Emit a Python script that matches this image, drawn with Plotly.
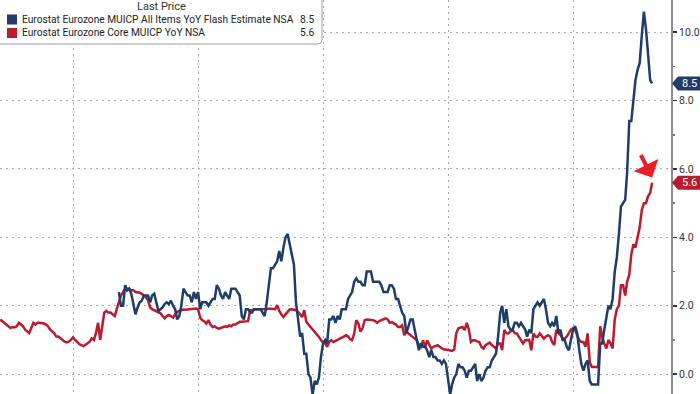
import pandas as pd
import plotly.graph_objects as go

# ---------------- data (monthly, YoY %) ----------------
core_start = "1997-01-31"
core_values = [
    1.6, 1.55, 1.5, 1.45, 1.4, 1.35, 1.38, 1.37, 1.4, 1.5, 1.45, 1.4,        # 1997
    1.3, 1.25, 1.2, 1.35, 1.5, 1.45, 1.5, 1.5, 1.5, 1.48, 1.45, 1.4,         # 1998
    1.3, 1.25, 1.2, 1.1, 1.1, 1.05, 1.0, 0.95, 0.93, 0.95, 1.0, 1.08,        # 1999
    1.0, 0.93, 0.88, 0.85, 0.82, 0.86, 0.9, 0.95, 1.05, 1.0, 1.2, 1.5,       # 2000
    1.0, 1.4, 1.8, 1.85, 1.8, 1.8, 1.75, 1.7, 1.9, 2.1, 2.3, 2.4,            # 2001
    2.5, 2.5, 2.5, 2.45, 2.45, 2.4, 2.4, 2.38, 2.35, 2.3, 2.25, 2.16,        # 2002
    1.95, 1.9, 1.87, 1.85, 1.8, 1.78, 1.7, 1.63, 1.7, 1.73, 1.7, 1.65,       # 2003
    1.75, 1.82, 1.85, 1.87, 1.89, 1.88, 1.89, 1.9, 1.9, 1.92, 1.92, 1.9,     # 2004
    1.65, 1.58, 1.55, 1.48, 1.58, 1.45, 1.38, 1.4, 1.35, 1.33, 1.35, 1.38,   # 2005
    1.4, 1.38, 1.43, 1.4, 1.45, 1.45, 1.5, 1.53, 1.53, 1.53, 1.53, 1.55,     # 2006
    1.87, 1.87, 1.9, 1.9, 1.88, 1.9, 1.9, 1.88, 1.9, 1.92, 1.92, 1.9,        # 2007
    1.9, 2.02, 1.85, 1.75, 1.67, 1.75, 1.82, 1.89, 1.9, 1.88, 1.87, 1.82,    # 2008
    1.75, 1.67, 1.87, 1.53, 1.45, 1.38, 1.32, 1.24, 1.18, 1.09, 1.0, 0.92,   # 2009
    0.9, 0.8, 0.95, 0.99, 0.94, 0.96, 1.0, 1.04, 1.06, 1.1, 1.14, 1.1,       # 2010
    1.02, 0.99, 1.19, 1.58, 1.48, 1.24, 1.35, 1.58, 1.6, 1.6, 1.6, 1.58,     # 2011
    1.55, 1.5, 1.55, 1.58, 1.6, 1.63, 1.6, 1.5, 1.52, 1.48, 1.45, 1.38,      # 2012
    1.38, 1.43, 1.14, 1.24, 1.2, 1.14, 1.09, 1.05, 0.99, 0.85, 0.8, 0.99,    # 2013
    0.8, 0.99, 0.85, 0.75, 0.8, 0.82, 0.85, 0.8, 0.75, 0.72, 0.72, 0.7,      # 2014
    0.7, 0.68, 0.72, 1.2, 1.34, 1.36, 1.38, 1.29, 1.5, 1.3, 0.94, 0.99,      # 2015
    0.99, 0.96, 0.94, 0.8, 0.75, 0.85, 0.88, 0.92, 0.85, 0.8, 0.75, 0.9,     # 2016
    0.9, 0.7, 1.29, 1.2, 1.19, 1.25, 1.29, 1.2, 1.19, 1.09, 1.0, 0.9,        # 2017
    0.99, 0.99, 1.0, 0.7, 1.19, 1.1, 1.09, 1.19, 1.12, 1.04, 1.1, 1.14,      # 2018
    1.1, 0.94, 0.85, 1.29, 1.2, 1.14, 1.04, 1.04, 1.1, 1.19, 1.3, 1.34,      # 2019
    1.3, 1.14, 1.0, 0.94, 0.94, 0.8, 1.19, 0.35, 0.21, 0.21, 0.21, 0.21,     # 2020
    1.4, 1.1, 0.9, 0.75, 1.0, 0.9, 0.75, 1.6, 1.9, 2.0, 2.6, 2.6,            # 2021
    2.3, 2.7, 2.9, 3.5, 3.8, 3.7, 4.0, 4.3, 4.8, 5.0, 5.0, 5.2,              # 2022
    5.3, 5.6,                                                                 # 2023
]

headline_start = "2001-10-31"
headline_values = [
    2.4, 2.0, 2.0,                                                            # 2001 Oct-Dec
    2.6, 2.45, 2.5, 2.35, 2.0, 1.75, 1.95, 2.1, 2.15, 2.3, 2.3, 2.3,          # 2002
    2.1, 2.3, 2.35, 2.1, 1.85, 1.9, 1.95, 2.05, 2.1, 2.05, 2.15, 2.0,         # 2003
    1.9, 1.6, 1.7, 2.0, 2.5, 2.4, 2.3, 2.3, 2.1, 2.4, 2.2, 2.4,               # 2004
    1.9, 2.1, 2.1, 2.1, 2.0, 2.1, 2.2, 2.2, 2.6, 2.5, 2.3, 2.2,               # 2005
    2.4, 2.3, 2.2, 2.5, 2.5, 2.5, 2.4, 2.3, 1.7, 1.6, 1.9, 1.9,               # 2006
    1.8, 1.8, 1.9, 1.9, 1.9, 1.9, 1.8, 1.7, 2.1, 2.6, 3.1, 3.1,               # 2007
    3.2, 3.3, 3.6, 3.3, 3.7, 4.0, 4.1, 3.8, 3.6, 3.2, 2.1, 1.6,               # 2008
    1.1, 1.2, 0.6, 0.6, 0.0, -0.1, -0.6, -0.2, -0.3, -0.1, 0.5, 0.9,          # 2009
    1.0, 0.9, 1.6, 1.6, 1.7, 1.5, 1.7, 1.6, 1.9, 1.9, 1.9, 2.2,               # 2010
    2.3, 2.4, 2.7, 2.8, 2.7, 2.7, 2.6, 2.6, 3.0, 3.0, 3.0, 2.7,               # 2011
    2.7, 2.7, 2.7, 2.6, 2.4, 2.4, 2.4, 2.6, 2.6, 2.5, 2.2, 2.2,               # 2012
    2.0, 1.8, 1.7, 1.2, 1.4, 1.6, 1.6, 1.3, 1.1, 0.7, 0.9, 0.8,               # 2013
    0.8, 0.7, 0.5, 0.7, 0.5, 0.5, 0.4, 0.4, 0.3, 0.4, 0.3, -0.2,              # 2014
    -0.6, -0.3, -0.1, 0.0, 0.3, 0.2, 0.2, 0.1, -0.1, 0.1, 0.1, 0.2,           # 2015
    0.3, -0.2, 0.0, -0.2, -0.1, 0.1, 0.2, 0.2, 0.4, 0.5, 0.6, 1.1,            # 2016
    1.8, 2.0, 1.5, 1.9, 1.4, 1.3, 1.3, 1.5, 1.5, 1.4, 1.5, 1.4,               # 2017
    1.3, 1.1, 1.3, 1.2, 1.9, 2.0, 2.1, 2.0, 2.1, 2.2, 1.9, 1.5,               # 2018
    1.4, 1.5, 1.4, 1.7, 1.2, 1.3, 1.0, 1.0, 0.8, 0.7, 1.0, 1.3,               # 2019
    1.4, 1.2, 0.7, 0.3, 0.1, 0.3, 0.4, -0.2, -0.3, -0.3, -0.3, -0.3,          # 2020
    0.9, 0.9, 1.3, 1.6, 2.0, 1.9, 2.2, 3.0, 3.4, 4.1, 4.9, 5.0,               # 2021
    5.1, 5.9, 7.4, 7.4, 8.1, 8.6, 8.9, 9.1, 9.9, 10.6, 10.1, 9.2,             # 2022
    8.6, 8.5,                                                                 # 2023
]

series_names = [
    "Eurostat Eurozone MUICP All Items YoY Flash Estimate NSA",
    "Eurostat Eurozone Core MUICP YoY NSA",
]
y_tick_values = [0, 2, 4, 6, 8, 10]
y_tick_labels = ["0.0", "2.0", "4.0", "6.0", "8.0", "10.0"]

# ---------------- styling ----------------
BLUE = "#1e3d69"
RED = "#bb1b2f"
ARROW_RED = "#ea1f25"
GRID = "#a8a8a8"
FONT = "Roboto"

W, H = 700, 394
ML, MR, MT, MB = 0, 29, 0, 0
PW, PH = W - ML - MR, H - MT - MB


def month_ends(start, n):
    try:
        return pd.date_range(start, periods=n, freq="ME")
    except ValueError:
        return pd.date_range(start, periods=n, freq="M")


core_dates = month_ends(core_start, len(core_values))
head_dates = month_ends(headline_start, len(headline_values))


def px(xp):
    return xp / PW


def py(yp):
    return 1 - yp / PH


fig = go.Figure()
fig.add_trace(go.Scatter(x=core_dates, y=core_values, mode="lines",
                         line=dict(color=RED, width=2.5), name=series_names[1],
                         showlegend=False))
fig.add_trace(go.Scatter(x=head_dates, y=headline_values, mode="lines",
                         line=dict(color=BLUE, width=2.5), name=series_names[0],
                         showlegend=False))

shapes = []
annotations = []

# legend box
x1 = px(322)
y0 = py(44)
rx, ry = px(4), 4 / PH
shapes.append(dict(
    type="path", xref="paper", yref="paper", layer="above",
    path=(f"M -0.01,1.02 L {x1},1.02 L {x1},{y0 + ry} "
          f"Q {x1},{y0} {x1 - rx},{y0} L -0.01,{y0} Z"),
    fillcolor="white", line=dict(color="#9b9b9b", width=1)))
annotations.append(dict(x=px(161), y=py(7), xref="paper", yref="paper",
                        text="Last Price", showarrow=False, xanchor="center",
                        yanchor="middle", font=dict(family=FONT, size=11, color="#333333")))
last_vals = [headline_values[-1], core_values[-1]]
for k, (nm, col, rowy) in enumerate(zip(series_names, [BLUE, RED], [19.5, 33])):
    shapes.append(dict(type="rect", xref="paper", yref="paper", layer="above",
                       x0=px(7), x1=px(17), y0=py(rowy + 5), y1=py(rowy - 5),
                       fillcolor=col, line=dict(width=0)))
    annotations.append(dict(x=px(19.5), y=py(rowy), xref="paper", yref="paper",
                            text=nm, showarrow=False, xanchor="left", yanchor="middle",
                            font=dict(family=FONT, size=10.2, color="#222222")))
    annotations.append(dict(x=px(316), y=py(rowy), xref="paper", yref="paper",
                            text=f"{last_vals[k]:.1f}", showarrow=False, xanchor="right",
                            yanchor="middle", font=dict(family=FONT, size=10.2, color="#222222")))

# right-side last value tags
unit = (10.94 + 0.58) / PH  # value per pixel
for val, col in zip(last_vals, [BLUE, RED]):
    half = 7 * unit
    xa, xb, xc = 1 + 1 / PW, 1 + 7 / PW, 1 + 40 / PW
    shapes.append(dict(
        type="path", xref="paper", yref="y", layer="above",
        path=(f"M {xa},{val} L {xb},{val + half} L {xc},{val + half} "
              f"L {xc},{val - half} L {xb},{val - half} Z"),
        fillcolor=col, line=dict(width=0)))
    annotations.append(dict(x=1 + 18 / PW, y=val, xref="paper", yref="y",
                            text=f"{val:.1f}", showarrow=False, xanchor="center",
                            yanchor="middle",
                            font=dict(family=FONT, size=11, color="white")))

# red arrow pointing at the last core value
annotations.append(dict(x=core_dates[-1], y=core_values[-1] + 0.15, xref="x", yref="y",
                        text="", showarrow=True, ax=-12, ay=-24, standoff=0,
                        arrowcolor=ARROW_RED, arrowwidth=4, arrowhead=1, arrowsize=1.15))

fig.update_layout(
    width=W, height=H,
    margin=dict(l=ML, r=MR, t=MT, b=MB, autoexpand=False),
    paper_bgcolor="white", plot_bgcolor="white",
    showlegend=False,
    font=dict(family=FONT, color="#333333"),
    shapes=shapes, annotations=annotations,
    xaxis=dict(type="date", range=["1997-01-28", "2023-12-01"],
               showgrid=True, gridcolor=GRID, griddash="2px,4px", gridwidth=1,
               dtick="M60", tick0="2000-01-01", showticklabels=False, ticks="",
               zeroline=False, showline=False, fixedrange=True),
    yaxis=dict(side="right", range=[-0.58, 10.94], tickvals=y_tick_values,
               ticktext=y_tick_labels, showgrid=True, gridcolor=GRID,
               griddash="2px,4px", gridwidth=1, zeroline=False,
               showline=True, linecolor="#8c8c8c", linewidth=2,
               ticks="outside", ticklen=4, tickwidth=1.5, tickcolor="#333333",
               tickfont=dict(family=FONT, size=10.5, color="#333333"),
               minor=dict(tickvals=[1, 3, 5, 7, 9], ticks="outside", ticklen=2,
                          tickcolor="#777777", showgrid=False),
               automargin=False, fixedrange=True),
)

fig.write_html(
    "out.html",
    config={"displayModeBar": False, "staticPlot": True},
    post_script="document.body.style.margin='0';document.body.style.padding='0';",
)
